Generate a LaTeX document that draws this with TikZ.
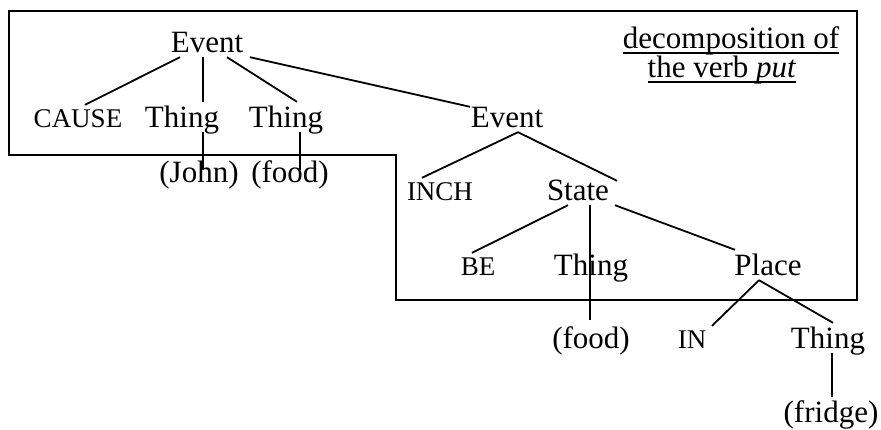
\documentclass[tikz,border=0pt]{standalone}
\usepackage{fontspec}
\setmainfont{Liberation Serif}
\newcommand\myul[1]{\setbox0\hbox{#1}\rlap{\rule[-5.6pt]{\wd0}{1.4pt}}\box0}
\begin{document}
\begin{tikzpicture}[x=1pt,y=-1pt,
  lab/.style={anchor=base, inner xsep=0pt, inner ysep=5pt, text height=20pt, text depth=0pt, font=\fontsize{31}{37}\selectfont},
  sc/.style={lab, text height=17pt, font=\fontsize{27}{32}\selectfont},
  branch/.style={line width=1.8pt},
  frame/.style={line width=1.8pt}]
\useasboundingbox (0,0) rectangle (881,429);
% frame
\draw[frame] (9,11) -- (857,11) -- (857,300) -- (396,300) -- (396,155) -- (9,155) -- cycle;
% nodes
\node[lab] (ev1) at (207,52) {Event};
\node[sc] (cause) at (78,127) {CAUSE};
\node[lab] (thA) at (182,127) {Thing};
\node[lab] (thB) at (286,127) {Thing};
\node[lab] (ev2) at (507,127) {Event};
\node[lab] (john) at (199,182) {(John)};
\node[lab] (foodA) at (290,182) {(food)};
\node[sc] (inch) at (440,200) {INCH};
\node[lab] (state) at (578,200) {State};
\node[sc] (be) at (478,275) {BE};
\node[lab] (thC) at (591,275) {Thing};
\node[lab] (place) at (768,275) {Place};
\node[lab] (foodB) at (591,348) {(food)};
\node[sc] (in) at (692,348) {IN};
\node[lab] (thD) at (828,348) {Thing};
\node[lab] (fridge) at (831,422) {(fridge)};
\node[lab] (t1) at (731,48) {\myul{decomposition of}};
\node[lab] (t2) at (722,77) {\myul{the verb \textit{put}}};
% branches
\draw[branch] ([xshift=-27pt]ev1.south) -- ([xshift=7pt]cause.north);
\draw[branch] ([xshift=-4pt]ev1.south) -- ([xshift=21pt]thA.north);
\draw[branch] ([xshift=20pt]ev1.south) -- ([xshift=11pt]thB.north);
\draw[branch] ([xshift=43pt]ev1.south) -- ([xshift=-37pt,yshift=-5pt]ev2.north);
\draw[branch] ([xshift=21pt]thA.south) -- ([xshift=4pt,yshift=-13pt]john.north);
\draw[branch] ([xshift=14pt]thB.south) -- ([xshift=10pt,yshift=-13pt]foodA.north);
\draw[branch] ([xshift=11pt]ev2.south) -- ([xshift=-18pt]inch.north);
\draw[branch] ([xshift=11pt]ev2.south) -- ([xshift=39pt,yshift=-6pt]state.north);
\draw[branch] ([xshift=-10pt]state.south) -- ([xshift=-6pt]be.north);
\draw[branch] ([xshift=12pt]state.south) -- ([xshift=-1pt]thC.south);
\draw[branch] ([xshift=-1pt]thC.south) -- ([xshift=-1pt,yshift=3pt]foodB.north);
\draw[branch] ([xshift=37pt]state.south) -- ([xshift=-33pt]place.north);
\draw[branch] ([xshift=-9pt]place.south) -- ([xshift=20pt]in.north);
\draw[branch] ([xshift=-9pt]place.south) -- ([xshift=5pt]thD.north);
\draw[branch] ([xshift=4pt]thD.south) -- ([xshift=1pt]fridge.north);
\end{tikzpicture}
\end{document}
